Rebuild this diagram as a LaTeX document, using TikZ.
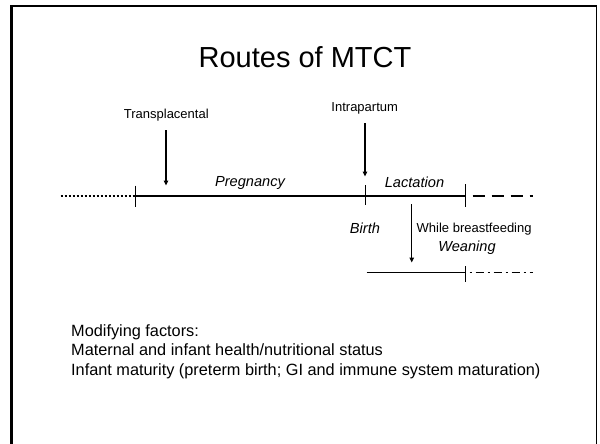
\documentclass[tikz,border=0pt]{standalone}
\usepackage{fontspec}
\setmainfont{Liberation Sans}
\usetikzlibrary{arrows.meta}

\begin{document}
\begin{tikzpicture}[x=1pt, y=-1pt,
    lbl/.style={inner sep=0pt, anchor=base, font=\fontsize{13}{15}\selectfont},
    phase/.style={inner sep=0pt, anchor=base, font=\fontsize{14.6}{17}\selectfont\itshape},
    factor/.style={inner sep=0pt, anchor=base west, font=\fontsize{16.3}{19}\selectfont},
    route/.style={line width=1.4pt, -{Triangle[length=5pt, width=4.5pt]}},
    tick/.style={line width=0.9pt}]
    \useasboundingbox (0,0) rectangle (600,444);
    \draw[line width=2.4pt] (11.5,444) -- (11.5,6.2) -- (596.5,6.2);
    \draw[line width=1.8pt] (596.5,6.2) -- (596.5,444);

    \node[anchor=base, inner sep=0pt, font=\fontsize{29}{34}\selectfont] (title) at (305,68) {Routes of MTCT};

    \coordinate (t0) at (60.7,195.7);
    \coordinate (t1) at (135,195.7);
    \coordinate (t2) at (365,195.7);
    \coordinate (t3) at (465.7,195.7);
    \coordinate (t4) at (533,195.7);
    \coordinate (l0) at (366.7,272.3);
    \coordinate (l1) at (465.7,272.3);
    \coordinate (l2) at (533,272.3);

    \draw[line width=2pt, dash pattern=on 2pt off 2pt] (t0) -- (t1);
    \draw[line width=2pt] (t1) -- (t3);
    \draw[line width=2pt, dash pattern=on 12pt off 7pt, dash phase=12pt] (t3) -- (t4);
    \draw[tick] (135,185.7) -- (135,207);
    \draw[tick] (365,185) -- (365,205);
    \draw[tick] (465.7,184) -- (465.7,207);

    \draw[line width=1.5pt] (l0) -- (l1);
    \draw[line width=1.5pt, dash pattern=on 8pt off 4pt on 2pt off 4pt, dash phase=8pt] (l1) -- (l2);
    \draw[tick] (465.7,266) -- (465.7,282);

    \node[lbl] (transp) at (166.3,118.3) {Transplacental};
    \node[lbl] (intrap) at (364.7,111.7) {Intrapartum};
    \node[phase] (preg) at (250,186.7) {Pregnancy};
    \node[phase] (lact) at (414.5,187) {Lactation};
    \node[phase] (birth) at (365,233) {Birth};
    \node[lbl, anchor=base west] (whilebf) at (416.5,232) {While breastfeeding};
    \node[phase] (wean) at (467,251) {Weaning};

    \coordinate (tp-a) at (166,130);
    \coordinate (tp-b) at (166,185.5);
    \coordinate (ip-a) at (365,123);
    \coordinate (ip-b) at (365,176.5);
    \coordinate (bf-a) at (411.7,204);
    \coordinate (bf-b) at (411.7,262.5);
    \draw[route] (tp-a) -- (tp-b);
    \draw[route] (ip-a) -- (ip-b);
    \draw[route] (bf-a) -- (bf-b);

    \node[factor] (mod) at (71,336.7) {Modifying factors:};
    \node[factor] (health) at (71,355.7) {Maternal and infant health/nutritional status};
    \node[factor] (mature) at (71,375) {Infant maturity (preterm birth; GI and immune system maturation)};
\end{tikzpicture}
\end{document}
